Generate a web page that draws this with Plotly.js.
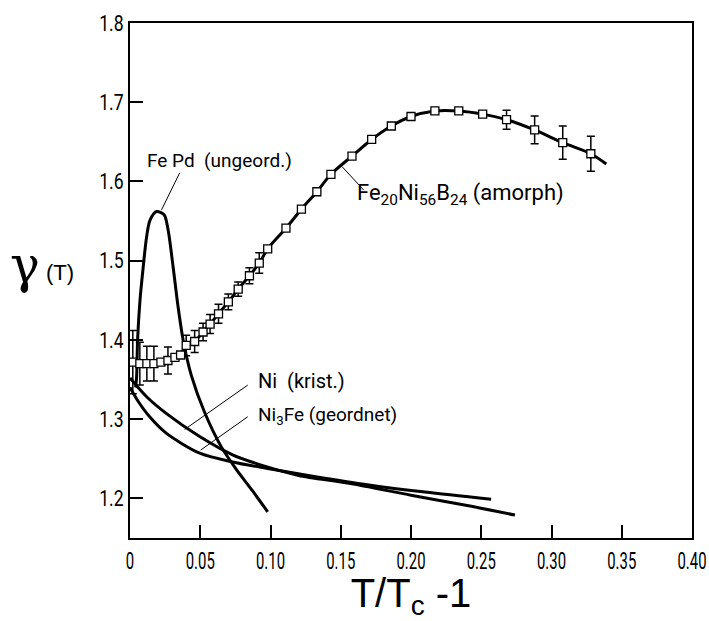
<!DOCTYPE html>
<html>
<head>
<meta charset="utf-8">
<script src="https://cdn.plot.ly/plotly-3.0.1.min.js"></script>
<style>html,body{margin:0;padding:0;background:#fff;}#chart{width:709px;height:621px;}</style>
</head>
<body>
<div id="chart"></div>
<script>
// ---- Fe20Ni56B24 (amorph): measured points with error bars ----
const amorphX = [0.002,0.007,0.012,0.017,0.022,0.027,0.032,0.036,0.040,0.046,0.052,0.057,0.063,0.070,0.077,0.085,0.092,0.098,0.111,0.122,0.133,0.143,0.158,0.172,0.186,0.200,0.217,0.234,0.251,0.268,0.288,0.308,0.328];
const amorphY = [1.372,1.370,1.370,1.370,1.372,1.374,1.378,1.381,1.393,1.398,1.410,1.420,1.433,1.448,1.464,1.481,1.497,1.515,1.541,1.565,1.587,1.609,1.632,1.653,1.670,1.682,1.689,1.689,1.685,1.678,1.665,1.649,1.635];
const amorphErr = [0.040,0.027,0.022,0.022,0,0.017,0,0,0.013,0.014,0.011,0.012,0.012,0.010,0.009,0.010,0.013,0,0,0,0,0,0,0,0,0,0,0,0,0.012,0.0175,0.021,0.022];
// end of the drawn curve beyond the last point
const amorphTailX = [0.339];
const amorphTailY = [1.622];

// ---- FePd (ungeord.) ----
const fepdX = [0.004,0.0047,0.0054,0.0071,0.0094,0.0118,0.0142,0.0189,0.0243,0.0271,0.0307,0.0342,0.0378,0.0437,0.053,0.065,0.0755,0.087,0.098];
const fepdY = [1.340,1.353,1.400,1.450,1.492,1.530,1.551,1.562,1.558,1.539,1.492,1.442,1.400,1.355,1.309,1.265,1.237,1.210,1.183];

// ---- Ni (krist.) ----
const niX = [0,0.012,0.026,0.0496,0.073,0.097,0.12,0.156,0.20,0.24,0.274];
const niY = [1.352,1.328,1.307,1.278,1.255,1.240,1.229,1.219,1.204,1.191,1.179];

// ---- Ni3Fe (geordnet) ----
const ni3feX = [0,0.006,0.014,0.026,0.0496,0.073,0.097,0.13,0.17,0.21,0.257];
const ni3feY = [1.340,1.322,1.303,1.282,1.257,1.246,1.238,1.228,1.217,1.208,1.199];

// ---- axis ticks ----
const xTickVals = [0,0.05,0.10,0.15,0.20,0.25,0.30,0.35,0.40];
const xTickText = ['0','0.05','0.10','0.15','0.20','0.25','0.30','0.35','0.40'];
const yTickVals = [1.2,1.3,1.4,1.5,1.6,1.7,1.8];
const yTickText = ['1.2','1.3','1.4','1.5','1.6','1.7','1.8'];

const FONT = 'Roboto,"DejaVu Sans",sans-serif';
const LABELFONT = 'Roboto,"DejaVu Sans",sans-serif';

const curveLine = {color:'#000', width:3, shape:'spline', smoothing:0.8};

const traces = [
  {x: fepdX, y: fepdY, mode:'lines', line: curveLine, hoverinfo:'skip'},
  {x: niX, y: niY, mode:'lines', line: curveLine, hoverinfo:'skip'},
  {x: ni3feX, y: ni3feY, mode:'lines', line: curveLine, hoverinfo:'skip'},
  {x: amorphX.concat(amorphTailX), y: amorphY.concat(amorphTailY), mode:'lines', line: curveLine, hoverinfo:'skip'},
  {x: amorphX, y: amorphY, mode:'markers',
   marker:{symbol:'square', size:8, color:'#fff', line:{color:'#000', width:1.3}},
   error_y:{type:'data', array: amorphErr, visible:true, color:'#000', thickness:1.5, width:4},
   hoverinfo:'skip'}
];

const ann = (x,y,text,size) => ({x:x, y:y, xref:'x', yref:'y', text:text, showarrow:false,
  xanchor:'left', yanchor:'middle', font:{family:LABELFONT, size:size||19, color:'#000'}});

const lead = (x0,y0,x1,y1) => ({type:'line', xref:'x', yref:'y', x0:x0, y0:y0, x1:x1, y1:y1, line:{color:'#000', width:1}});

const layout = {
  width:709, height:621,
  margin:{l:130, r:17, t:23, b:83},
  paper_bgcolor:'#fff', plot_bgcolor:'#fff',
  showlegend:false,
  xaxis:{range:[0,0.40], tickvals:xTickVals, ticktext:xTickText, ticks:'inside', ticklen:13, tickwidth:2, tickcolor:'#000',
    showline:true, mirror:true, linewidth:2, linecolor:'#000', showgrid:false, zeroline:false,
    ticklabeloverflow:'allow',
    tickfont:{family:FONT, size:24, color:'#000'},
    title:{text:'T/T<sub>c</sub> -1', font:{family:'"Liberation Sans",Arial,sans-serif', size:40, color:'#000'}, standoff:13}},
  yaxis:{range:[1.15,1.8], tickvals:yTickVals, ticktext:yTickText, ticks:'inside', ticklen:13, tickwidth:2, tickcolor:'#000',
    showline:true, mirror:true, linewidth:2, linecolor:'#000', showgrid:false, zeroline:false,
    tickfont:{family:FONT, size:22, color:'#000'}},
  annotations:[
    ann(0.0106,1.627,'Fe Pd  (ungeord.)'),
    ann(0.160,1.584,'Fe<sub>20</sub>Ni<sub>56</sub>B<sub>24</sub> (amorph)', 22),
    ann(0.0899,1.348,'Ni  (krist.)', 20),
    ann(0.0899,1.304,'Ni<sub>3</sub>Fe (geordnet)'),
    {xref:'paper', yref:'paper', x:-0.186, y:0.53, text:'γ', showarrow:false, xanchor:'center', yanchor:'middle',
     font:{family:'"DejaVu Serif","Liberation Serif",serif', size:50, color:'#000'}},
    {xref:'paper', yref:'paper', x:-0.124, y:0.515, text:'(T)', showarrow:false, xanchor:'center', yanchor:'middle',
     font:{family:'"Liberation Sans",Arial,sans-serif', size:22, color:'#000'}}
  ],
  shapes:[
    lead(0.0354,1.611,0.0224,1.564),
    lead(0.1664,1.589,0.1508,1.619),
    lead(0.0838,1.343,0.0389,1.287),
    lead(0.0838,1.303,0.0503,1.261)
  ]
};

// squeeze tick labels horizontally (the original uses a very narrow typeface)
function condense(selector, factor) {
  document.querySelectorAll(selector).forEach(t => {
    const x = parseFloat(t.getAttribute('x') || 0);
    const prev = t.getAttribute('transform') || '';
    t.setAttribute('transform', prev + ' translate(' + x + ',0) scale(' + factor + ',1) translate(' + (-x) + ',0)');
  });
}

Plotly.newPlot('chart', traces, layout, {displayModeBar:false, staticPlot:true}).then(() => {
  condense('#chart .xtick text', 0.62);
  condense('#chart .ytick text', 0.8);
});
</script>
</body>
</html>
